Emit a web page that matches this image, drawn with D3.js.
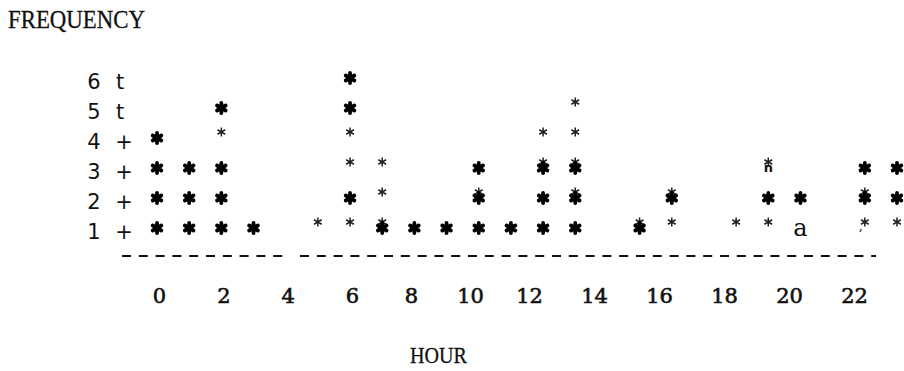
<!DOCTYPE html>
<html>
<head>
<meta charset="utf-8">
<script src="https://cdn.jsdelivr.net/npm/d3@7"></script>
<style>
  html, body { margin: 0; padding: 0; background: #fff; }
  svg { display: block; }
  .serif { font-family: "Liberation Serif", "Times New Roman", serif; fill: #111; }
  .dserif { font-family: "DejaVu Serif", serif; fill: #111; }
  .sans { font-family: "DejaVu Sans", sans-serif; fill: #111; }
</style>
</head>
<body>
<div id="chart"></div>
<script>
// one printer column per hour
const HOURS = [0, 1, 2, 3, 4, 5, 6, 7, 8, 9, 10, 11, 12, 13, 14, 15, 16, 17, 18, 19, 20, 21, 22, 23];

// levels printed with the heavy asterisk, per hour
const HEAVY_LEVELS = [
  [1, 2, 3, 4], [1, 2, 3], [1, 2, 3, 5], [1], [], [], [2, 5, 6], [1],
  [1], [1], [1, 2, 3], [1], [1, 2, 3], [1, 2, 3], [], [1],
  [2], [], [], [2], [2], [], [2, 3], [2, 3]
];

// levels printed with the light asterisk (second pass, slightly shifted)
const LIGHT_LEVELS = [
  [], [], [4], [], [], [1], [1, 3, 4], [1, 2, 3],
  [], [], [2], [], [3, 4], [2, 3, 4, 5], [], [1],
  [1, 2], [], [1], [1, 3], [], [], [1, 2], [1]
];

// stray characters in the print
const STRAY_HOURS = [19, 20, 22];
const STRAY_LEVELS = [3, 1, 1];
const STRAY_CHARS = ["n", "a", ","];

// vertical axis
const Y_LEVELS = [1, 2, 3, 4, 5, 6];
const Y_MARKS = ["+", "+", "+", "+", "t", "t"];

// horizontal axis labels
const TICK_HOURS = [0, 2, 4, 6, 8, 10, 12, 14, 16, 18, 20, 22];

const width = 904;
const height = 371;

const svg = d3.select("#chart").append("svg")
  .attr("width", width)
  .attr("height", height)
  .attr("viewBox", `0 0 ${width} ${height}`);

// scales
const x = d3.scaleLinear().domain([0, 23]).range([157, 897]);
const y = d3.scaleLinear().domain([1, 6]).range([228, 78]);
// label row of the print does not line up exactly with the columns
const xLabel = d3.scaleLinear().domain([0, 6, 12, 22]).range([159, 352, 529, 854]);

const heavy = d3.symbol().type(d3.symbolAsterisk).size(70);
const light = d3.symbol().type(d3.symbolAsterisk).size(56);

// flatten the per-hour level lists into marks
const lightMarks = HOURS.flatMap((h, i) => LIGHT_LEVELS[i].map(l => ({ hour: h, level: l })));
const heavyMarks = HOURS.flatMap((h, i) => HEAVY_LEVELS[i].map(l => ({ hour: h, level: l })));

// title
svg.append("text")
  .attr("class", "serif")
  .attr("x", 8)
  .attr("y", 28)
  .attr("font-size", 25)
  .attr("textLength", 137)
  .attr("lengthAdjust", "spacingAndGlyphs")
  .attr("stroke", "#111")
  .attr("stroke-width", 0.3)
  .text("FREQUENCY");

// y axis labels
const yAxis = svg.append("g").attr("class", "y-axis");
yAxis.selectAll("text.num")
  .data(Y_LEVELS)
  .enter().append("text")
  .attr("class", "sans num")
  .attr("x", 94)
  .attr("y", d => y(d) + 3)
  .attr("dy", "0.36em")
  .attr("text-anchor", "middle")
  .attr("font-size", 21)
  .text(d => d);

yAxis.selectAll("text.mark")
  .data(Y_LEVELS)
  .enter().append("text")
  .attr("class", "sans mark")
  .attr("x", (d, i) => Y_MARKS[i] === "t" ? 120 : 124)
  .attr("y", d => y(d) + 3)
  .attr("dy", "0.36em")
  .attr("text-anchor", "middle")
  .attr("font-size", 21)
  .text((d, i) => Y_MARKS[i]);

// light asterisks first, heavy ones print over them
svg.append("g")
  .attr("class", "light")
  .selectAll("path")
  .data(lightMarks)
  .enter().append("path")
  .attr("transform", d => `translate(${x(d.hour)},${y(d.level) - 6})`)
  .attr("d", light)
  .attr("fill", "none")
  .attr("stroke", "#222")
  .attr("stroke-width", 1.5);

svg.append("g")
  .attr("class", "heavy")
  .selectAll("path")
  .data(heavyMarks)
  .enter().append("path")
  .attr("transform", d => `translate(${x(d.hour)},${y(d.level)})`)
  .attr("d", heavy)
  .attr("fill", "none")
  .attr("stroke", "#000")
  .attr("stroke-width", 3.8)
  .attr("stroke-linecap", "round");

// stray characters
svg.append("g")
  .selectAll("text")
  .data(STRAY_HOURS)
  .enter().append("text")
  .attr("class", (d, i) => STRAY_CHARS[i] === "n" ? "sans" : "dserif")
  .attr("x", (d, i) => x(d) + (STRAY_CHARS[i] === "," ? -4 : 0))
  .attr("y", (d, i) => y(STRAY_LEVELS[i]) + (STRAY_CHARS[i] === "n" ? 4 : STRAY_CHARS[i] === "," ? 2 : 8))
  .attr("text-anchor", "middle")
  .attr("font-size", (d, i) => STRAY_CHARS[i] === "a" ? 24 : 13)
  .attr("font-weight", (d, i) => STRAY_CHARS[i] === "n" ? "bold" : "normal")
  .text((d, i) => STRAY_CHARS[i]);

// dashed baseline, printed in two runs
const base = svg.append("g").attr("class", "baseline");
base.append("line")
  .attr("x1", 122).attr("x2", 283)
  .attr("y1", 256).attr("y2", 256);
base.append("line")
  .attr("x1", 300).attr("x2", 876)
  .attr("y1", 256).attr("y2", 256);
base.selectAll("line")
  .attr("stroke", "#111")
  .attr("stroke-width", 1.8)
  .attr("stroke-dasharray", "9 7.8");

// x axis labels
const xAxis = svg.append("g")
  .attr("transform", "translate(0,295)")
  .call(d3.axisBottom(xLabel).tickValues(TICK_HOURS).tickSize(0).tickPadding(0));
xAxis.select(".domain").remove();
xAxis.selectAll("text")
  .attr("class", "dserif")
  .attr("y", 0)
  .attr("dy", "0.36em")
  .attr("font-size", 21)
  .attr("font-family", "DejaVu Serif, serif")
  .attr("fill", "#111")
  .attr("stroke", "#111")
  .attr("stroke-width", 0.6);

// x axis title
svg.append("text")
  .attr("class", "serif")
  .attr("x", 410)
  .attr("y", 363)
  .attr("font-size", 24)
  .attr("textLength", 57)
  .attr("lengthAdjust", "spacingAndGlyphs")
  .attr("stroke", "#111")
  .attr("stroke-width", 0.3)
  .text("HOUR");
</script>
</body>
</html>
